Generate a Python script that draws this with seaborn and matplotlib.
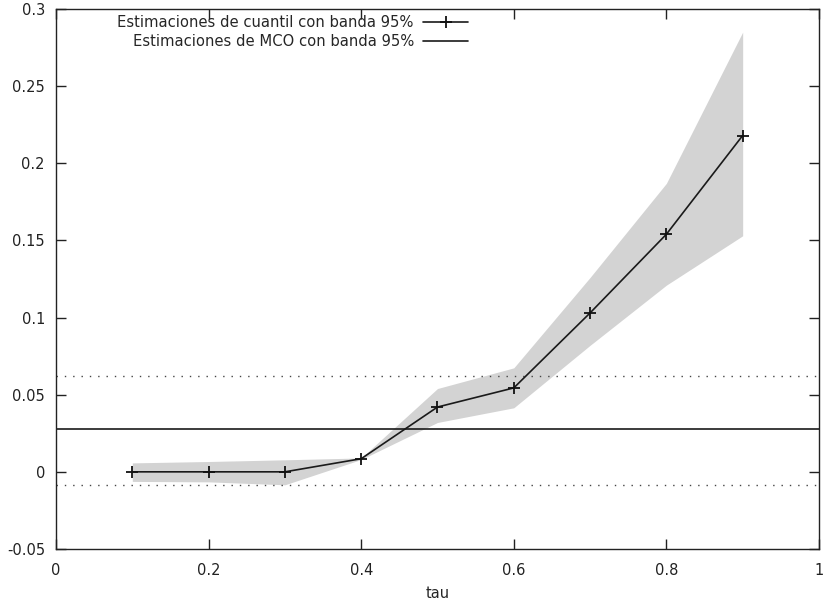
import numpy as np
import pandas as pd
import seaborn as sns
import matplotlib.pyplot as plt

# ==[ Data ]==============================================================
tau = [0.1, 0.2, 0.3, 0.4, 0.5, 0.6, 0.7, 0.8, 0.9]
coef = [0.0, 0.0, 0.0, 0.0085, 0.042, 0.0544, 0.103, 0.154, 0.218]
band_lo = [-0.0062, -0.0065, -0.0084, 0.008, 0.032, 0.0415, 0.082, 0.121, 0.153]
band_hi = [0.0058, 0.0067, 0.0078, 0.009, 0.054, 0.0674, 0.126, 0.187, 0.285]
ols = 0.028
ols_lo = -0.0084
ols_hi = 0.0622

x_ticks = [0, 0.2, 0.4, 0.6, 0.8, 1]
x_labels = ["0", "0.2", "0.4", "0.6", "0.8", "1"]
y_ticks = [-0.05, 0, 0.05, 0.1, 0.15, 0.2, 0.25, 0.3]
y_labels = ["-0.05", "0", "0.05", "0.1", "0.15", "0.2", "0.25", "0.3"]

df = pd.DataFrame({"tau": tau, "coef": coef})

# ==[ Plot ]==============================================================
sns.set_style("ticks", {"xtick.direction": "in", "ytick.direction": "in"})
plt.rcParams["font.family"] = ["DejaVu Sans"]
plt.rcParams["xtick.top"] = True
plt.rcParams["ytick.right"] = True

fig = plt.figure(figsize=(8.26, 6.04), dpi=100)
ax = fig.add_axes([0.0678, 0.0911, 0.9237, 0.894])

ax.fill_between(tau, band_lo, band_hi, color="#d3d3d3", linewidth=0, zorder=1)
sns.lineplot(data=df, x="tau", y="coef", ax=ax, color="#1a1a1a", linewidth=1.2,
             marker="+", markersize=8, markeredgewidth=1.3, markeredgecolor="#111111",
             label="Estimaciones de cuantil con banda 95%", zorder=3)
ax.axhline(ols, color="#1a1a1a", linewidth=1.2, label="Estimaciones de MCO con banda 95%", zorder=2)
ax.axhline(ols_lo, color="#444444", linewidth=1.0, linestyle=(0, (1, 5)), zorder=2)
ax.axhline(ols_hi, color="#444444", linewidth=1.0, linestyle=(0, (1, 5)), zorder=2)

ax.set_xlim(0, 1)
ax.set_ylim(-0.05, 0.3)
ax.set_xticks(x_ticks)
ax.set_xticklabels(x_labels)
ax.set_yticks(y_ticks)
ax.set_yticklabels(y_labels)
ax.tick_params(direction="in", length=7, width=1, bottom=True, left=True,
               top=True, right=True, labelsize=10.5, colors="#222222", pad=8)
ax.tick_params(axis="x", pad=10)
for s in ax.spines.values():
    s.set_visible(True)
    s.set_color("#222222")
    s.set_linewidth(1)
ax.set_xlabel("tau", fontsize=10.5, labelpad=6)
ax.set_ylabel("")

ax.legend(loc="upper left", bbox_to_anchor=(0.067, 1.008), frameon=False,
          markerfirst=False, handlelength=3.1, handletextpad=0.6, fontsize=10.6,
          labelspacing=0.3, borderaxespad=0.3)

fig.savefig("out.png", dpi=100)
